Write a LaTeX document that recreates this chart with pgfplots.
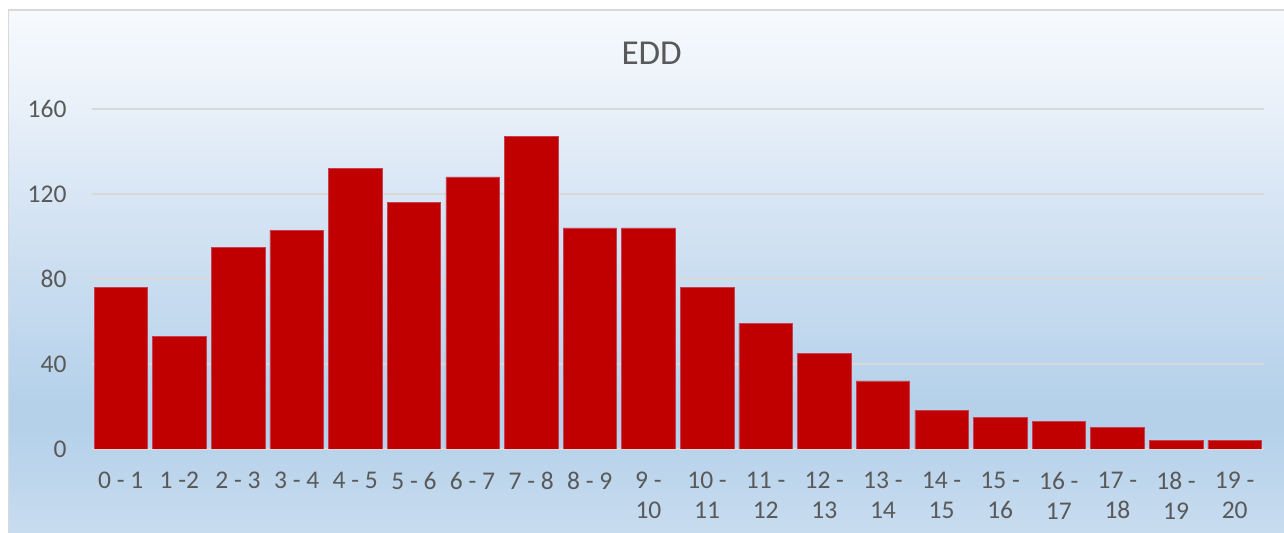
\documentclass[border=0pt]{standalone}
\usepackage{pgfplots}
\pgfplotsset{compat=1.18}
\usepackage{fontspec}
\setmainfont{Carlito}

\definecolor{barred}{HTML}{C00000}
\definecolor{baredge}{HTML}{C8404F}
\definecolor{txtgray}{HTML}{595959}
\definecolor{gridgray}{HTML}{D9D9D9}
\definecolor{bgTop}{HTML}{F7FAFD}
\definecolor{bgHi}{HTML}{E8F0F9}
\definecolor{bgMid}{HTML}{D7E5F4}
\definecolor{bgLow}{HTML}{C6DBEF}
\definecolor{bgDark}{HTML}{B5D1EA}
\definecolor{bgBot}{HTML}{C8DCEF}

% vertical background gradient; 25bp = bottom, 75bp = top of the shaded area
\pgfdeclareverticalshading{chartbg}{100bp}{%
  color(0bp)=(bgBot); color(25bp)=(bgBot); color(34.8bp)=(bgDark);
  color(37.7bp)=(bgDark); color(47.3bp)=(bgLow); color(56.8bp)=(bgMid);
  color(65.5bp)=(bgHi); color(75bp)=(bgTop); color(100bp)=(bgTop)}

\pgfplotstableread{
x  n
0  76
1  53
2  95
3  103
4  132
5  116
6  128
7  147
8  104
9  104
10 76
11 59
12 45
13 32
14 18
15 15
16 13
17 10
18 4
19 4
}\eddtable

\begin{document}
\begin{tikzpicture}
  \useasboundingbox (0,0) rectangle (1284bp,533bp);
  \fill[white] (0,0) rectangle (1284bp,533bp);
  \shade[shading=chartbg] (9bp,0) rectangle (1284bp,522.5bp);
  \draw[gridgray, line width=1.2bp] (8.6bp,0) -- (8.6bp,522.9bp) -- (1284bp,522.9bp);

  \begin{axis}[
    at={(91.5bp,84bp)}, anchor=south west,
    scale only axis, width=1172.5bp, height=340bp,
    xmin=-0.5, xmax=19.5, ymin=0, ymax=160,
    enlargelimits=false,
    axis line style={draw=none},
    tick style={draw=none},
    major tick length=0pt,
    ytick={0,40,80,120,160},
    ymajorgrids,
    grid style={gridgray, line width=1.3bp},
    xtick=data,
    xticklabels={0 - 1, 1 -2, 2 - 3, 3 - 4, 4 - 5, 5 - 6, 6 - 7, 7 - 8, 8 - 9,
      {9 -\\10}, {10 -\\11}, {11 -\\12}, {12 -\\13}, {13 -\\14}, {14 -\\15},
      {15 -\\16}, {16 -\\17}, {17 -\\18}, {18 -\\19}, {19 -\\20}},
    /pgf/number format/assume math mode=true,
    ticklabel style={font=\fontsize{25.5bp}{30bp}\selectfont, text=txtgray},
    xticklabel style={align=center, anchor=north, inner sep=0pt, yshift=-23bp},
    yticklabel style={anchor=east, inner sep=0pt, xshift=-24.8bp},
  ]
    \addplot[ybar, bar width=53.5bp, bar shift=0pt, fill=barred,
      draw=baredge, line width=0.6bp] table[x=x, y=n] {\eddtable};
  \end{axis}

  \node[anchor=base, text=txtgray, font=\fontsize{35bp}{40bp}\selectfont]
    at (651.7bp,468bp) {EDD};
\end{tikzpicture}
\end{document}
